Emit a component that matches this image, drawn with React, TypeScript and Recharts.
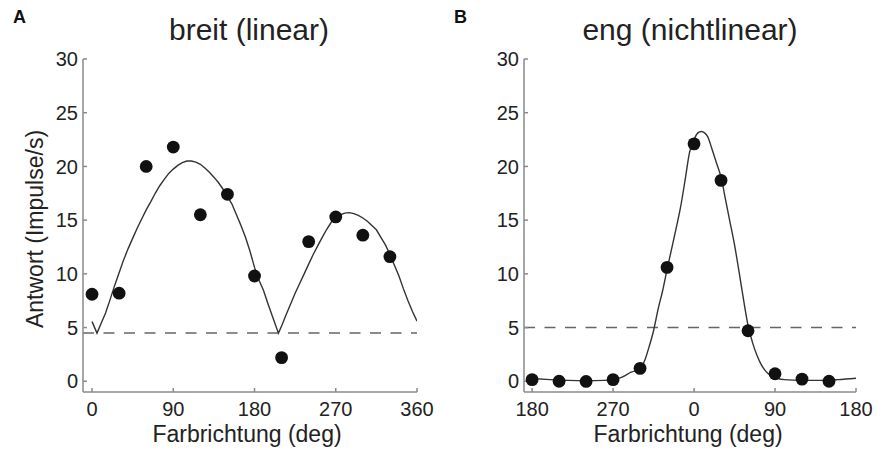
import { ComposedChart, Line, Scatter, XAxis, YAxis, ReferenceLine } from 'recharts'

const FONT = '"Liberation Sans", Arial, Helvetica, sans-serif'

// Panel A: breit (linear)
const pointDegA = [0, 30, 60, 90, 120, 150, 180, 210, 240, 270, 300, 330]
const pointValA = [8.1, 8.2, 20.0, 21.8, 15.5, 17.4, 9.8, 2.2, 13.0, 15.3, 13.6, 11.6]
const fitDegA = [
  0, 5.5, 10, 15, 20, 25, 30, 35, 40, 45, 50, 55, 60, 65, 70, 75, 80, 85, 90, 95, 100, 105, 110, 115, 120,
  125, 130, 135, 140, 145, 150, 155, 160, 165, 170, 175, 180, 185, 190, 195, 200, 206.5, 210, 215, 220, 225,
  230, 235, 240, 245, 250, 255, 260, 265, 270, 275, 280, 285, 290, 295, 300, 305, 310, 315, 320, 325, 330,
  335, 340, 345, 350, 355, 360,
]
const fitValA = [
  5.55, 4.48, 5.37, 6.35, 7.6, 8.9, 10.1, 11.3, 12.35, 13.3, 14.25, 15.1, 15.95, 16.7, 17.5, 18.2, 18.8, 19.35,
  19.75, 20.1, 20.35, 20.5, 20.5, 20.4, 20.2, 19.85, 19.45, 19.0, 18.5, 17.9, 17.2, 16.5, 15.5, 14.5, 13.4, 12.1,
  10.6, 9.4, 8.45, 7.2, 6.0, 4.48, 5.15, 6.2, 7.2, 8.2, 9.1, 10.0, 10.9, 11.8, 12.6, 13.4, 14.15, 14.8, 15.25,
  15.5, 15.65, 15.7, 15.6, 15.45, 15.2, 14.9, 14.5, 14.1, 13.4, 12.7, 11.8, 10.8, 9.8, 8.6, 7.5, 6.5, 5.6,
]
const baselineA = 4.5
const xTicksA = [0, 90, 180, 270, 360]

// Panel B: eng (nichtlinear)
const pointDegB = [-180, -150, -120, -90, -60, -30, 0, 30, 60, 90, 120, 150]
const pointValB = [0.15, 0.0, -0.02, 0.15, 1.2, 10.6, 22.1, 18.7, 4.7, 0.7, 0.2, 0.0]
const fitDegB = [
  -180, -160, -140, -120, -100, -90, -80, -70, -60, -55, -50, -45, -40, -35, -30, -25, -20, -15, -10, -5, 0, 4,
  8, 12, 15, 20, 25, 30, 35, 40, 45, 50, 55, 60, 65, 70, 75, 80, 85, 90, 100, 120, 140, 160, 180,
]
const fitValB = [
  0.25, 0.15, 0.08, 0.05, 0.08, 0.15, 0.38, 0.84, 1.2, 1.9, 3.2, 4.7, 6.7, 8.4, 10.4, 12.3, 14.2, 16.2, 18.7,
  21.3, 22.5, 23.1, 23.25, 23.1, 22.8, 21.6, 20.3, 19.0, 16.9, 14.8, 12.7, 10.2, 7.6, 5.2, 3.6, 2.4, 1.5, 0.9,
  0.55, 0.35, 0.15, 0.08, 0.08, 0.15, 0.28,
]
const baselineB = 5
const xTicksB = [-180, -90, 0, 90, 180]

const yTicks = [0, 5, 10, 15, 20, 25, 30]

const zip = (xs: number[], ys: number[]) => xs.map((deg, i) => ({ deg, val: ys[i] }))

const Dot = (p: any) => <circle cx={p.cx} cy={p.cy} r={6.4} fill="#111" />

const axisColor = '#8a8a8a'
const tickStyle = { fill: '#222', fontSize: 20, fontFamily: FONT }

type PanelProps = {
  letter: string
  title: string
  points: { deg: number; val: number }[]
  fit: { deg: number; val: number }[]
  baseline: number
  xDomain: [number, number]
  xTicks: number[]
  xFormat?: (v: number) => string
  marginRight: number
  yLabel?: string
  curveType: 'linear' | 'monotone'
}

function Panel(props: PanelProps) {
  const { letter, title, points, fit, baseline, xDomain, xTicks, xFormat, marginRight, yLabel, curveType } = props
  return (
    <ComposedChart width={441} height={450} margin={{ top: 59, right: marginRight, bottom: 18, left: 23 }}>
      <XAxis
        dataKey="deg"
        type="number"
        domain={xDomain}
        ticks={xTicks}
        tickFormatter={xFormat}
        allowDataOverflow
        height={40}
        stroke={axisColor}
        strokeWidth={1.5}
        tickSize={-4}
        tickMargin={14}
        tick={tickStyle}
      />
      <YAxis
        type="number"
        domain={[-1, 30]}
        ticks={yTicks}
        allowDataOverflow
        width={60}
        stroke={axisColor}
        strokeWidth={1.5}
        tickSize={-4}
        tickMargin={9}
        tick={tickStyle}
      />
      <ReferenceLine y={baseline} stroke="#666" strokeWidth={1.5} strokeDasharray="11 9.5" />
      <Line
        data={fit}
        dataKey="val"
        type={curveType}
        stroke="#333"
        strokeWidth={1.4}
        dot={false}
        activeDot={false}
        isAnimationActive={false}
      />
      <Scatter data={points} dataKey="val" shape={Dot} isAnimationActive={false} />
      <text x={13} y={23} fontFamily={FONT} fontWeight="bold" fontSize={18} fill="#111">
        {letter}
      </text>
      <text x={249} y={40} textAnchor="middle" fontFamily={FONT} fontSize={30} fill="#222">
        {title}
      </text>
      <text x={247} y={442} textAnchor="middle" fontFamily={FONT} fontSize={23} fill="#222">
        Farbrichtung (deg)
      </text>
      {yLabel && (
        <text
          x={43}
          y={229}
          textAnchor="middle"
          transform="rotate(-90 43 229)"
          fontFamily={FONT}
          fontSize={23}
          fill="#222"
        >
          {yLabel}
        </text>
      )}
    </ComposedChart>
  )
}

export default function App() {
  return (
    <div style={{ position: 'absolute', left: 0, top: 0, width: 882, height: 450, background: '#fff', display: 'flex' }}>
      <Panel
        letter="A"
        title="breit (linear)"
        points={zip(pointDegA, pointValA)}
        fit={zip(fitDegA, fitValA)}
        baseline={baselineA}
        xDomain={[-10, 360]}
        xTicks={xTicksA}
        marginRight={24}
        yLabel="Antwort (Impulse/s)"
        curveType="linear"
      />
      <Panel
        letter="B"
        title="eng (nichtlinear)"
        points={zip(pointDegB, pointValB)}
        fit={zip(fitDegB, fitValB)}
        baseline={baselineB}
        xDomain={[-189, 180]}
        xTicks={xTicksB}
        xFormat={(v) => String((v + 360) % 360)}
        marginRight={26}
        curveType="monotone"
      />
    </div>
  )
}
